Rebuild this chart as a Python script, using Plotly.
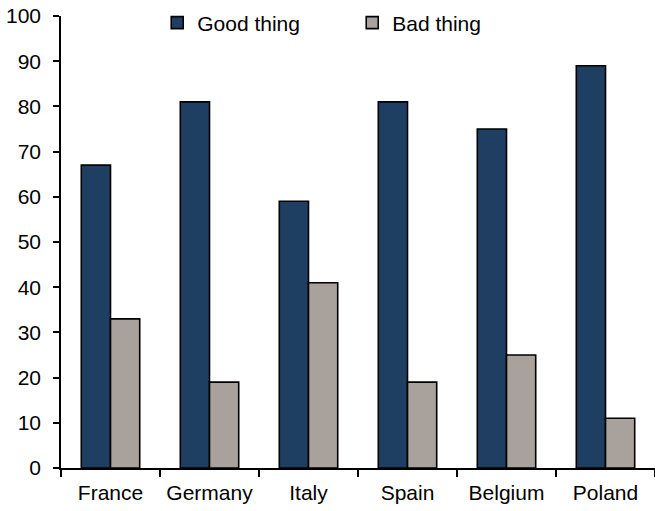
import plotly.graph_objects as go

countries = ["France", "Germany", "Italy", "Spain", "Belgium", "Poland"]
good_thing = [67, 81, 59, 81, 75, 89]
bad_thing = [33, 19, 41, 19, 25, 11]
y_ticks = list(range(0, 101, 10))

NAVY = "#1F3F62"
GREY = "#A9A19B"
FONT = "Arial, Liberation Sans, sans-serif"

pos = list(range(len(countries)))
bounds = [p - 0.5 for p in pos] + [pos[-1] + 0.5]

fig = go.Figure()
fig.add_trace(go.Bar(x=pos, y=good_thing, name="Good thing",
                     marker=dict(color=NAVY, line=dict(color="black", width=1.6))))
fig.add_trace(go.Bar(x=pos, y=bad_thing, name="Bad thing",
                     marker=dict(color=GREY, line=dict(color="black", width=1.6))))
# invisible trace to carry the boundary tick axis
fig.add_trace(go.Scatter(x=[bounds[0], bounds[-1]], y=[0, 0], xaxis="x2",
                         mode="lines", line=dict(width=0), showlegend=False,
                         hoverinfo="skip"))

fig.update_layout(
    width=655, height=511,
    margin=dict(l=61, r=0, t=16, b=43),
    paper_bgcolor="white", plot_bgcolor="white",
    barmode="group", bargap=0.41, bargroupgap=0,
    font=dict(family=FONT, size=21, color="black"),
    showlegend=True,
    legend=dict(orientation="h", x=0.162, xanchor="left", y=1.03, yanchor="top",
                bgcolor="rgba(0,0,0,0)", font=dict(size=21),
                entrywidth=150, entrywidthmode="pixels",
                traceorder="normal"),
    xaxis=dict(range=[bounds[0], bounds[-1]], tickvals=pos, ticktext=countries,
               ticks="", showgrid=False, zeroline=False, showline=False,
               tickfont=dict(size=21), ticklabelstandoff=10),
    xaxis2=dict(range=[bounds[0], bounds[-1]], overlaying="x", anchor="y", side="bottom",
                tickvals=bounds, showticklabels=False, ticks="outside", ticklen=7,
                tickwidth=1.5, tickcolor="black", showline=True, linecolor="black",
                linewidth=1.5, showgrid=False, zeroline=False),
    yaxis=dict(range=[0, 100], tickvals=y_ticks, ticks="outside", ticklen=6,
               tickwidth=1.5, tickcolor="black", showline=True, linecolor="black",
               linewidth=1.5, showgrid=False, zeroline=False,
               tickfont=dict(size=21), ticklabelstandoff=8),
)

fig.write_html("out.html")
